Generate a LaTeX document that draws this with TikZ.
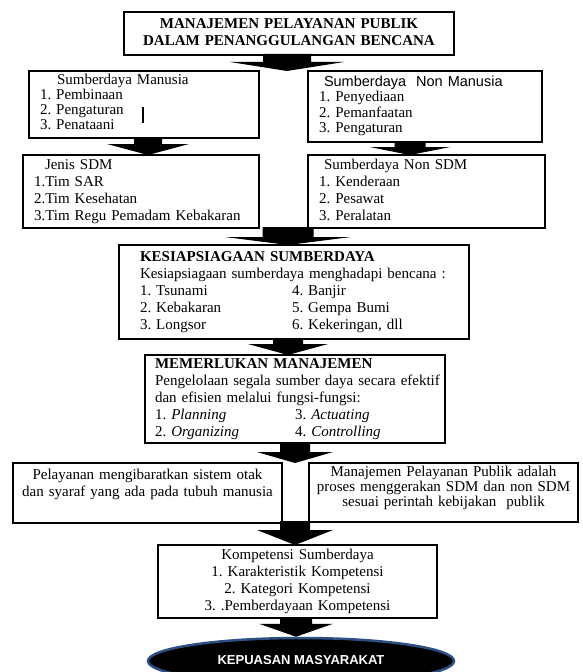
\documentclass[tikz,border=0pt]{standalone}
\usepackage{fontspec}
\setmainfont{Liberation Serif}
\setsansfont{Liberation Sans}
\usetikzlibrary{calc,shapes.geometric}
\frenchspacing
\newcommand\blkarrow[5]{%
  \fill let \p1=(#1), \p2=(#1 |- #2.north) in
    (\x1-#3bp,\y1) -- (\x1+#3bp,\y1) -- (\x1+#3bp,\y2+#5bp) -- (\x1+#4bp,\y2+#5bp)
    -- (\x1,\y2) -- (\x1-#4bp,\y2+#5bp) -- (\x1-#3bp,\y2+#5bp) -- cycle;}
\begin{document}
\begin{tikzpicture}[x=1bp,y=-1bp,
  box/.style={draw, line width=1.2bp, anchor=north west, inner ysep=0pt, outer sep=0pt},
  lbox/.style={box, align=left, font=\fontsize{15bp}{17bp}\selectfont},
  cbox/.style={box, align=center, inner xsep=0pt, font=\fontsize{15bp}{17bp}\selectfont},
]
\useasboundingbox (0,0) rectangle (583,672);

\node[cbox, text width=330bp, minimum height=43bp, font=\fontsize{15bp}{17bp}\selectfont\bfseries] (T) at (124,12)
  {\begin{tabular}{@{}c@{}}MANAJEMEN PELAYANAN PUBLIK\\DALAM PENANGGULANGAN BENCANA\end{tabular}};

\node[lbox, text width=208bp, inner xsep=11bp, minimum height=67bp, font=\fontsize{15bp}{15bp}\selectfont] (L1) at (29,71)
  {\begin{tabular}{@{}l@{}}\hspace*{17bp}Sumberdaya Manusia\\1. Pembinaan\\2. Pengaturan\\3. Penataani\end{tabular}};
\draw[line width=1.5bp] (143,107) -- (143,123);

\node[lbox, text width=212bp, inner xsep=11bp, minimum height=71bp, font=\fontsize{15bp}{15bp}\selectfont] (R1) at (308,71)
  {\begin{tabular}{@{}l@{}}\hspace*{5bp}{\sffamily\fontsize{14.5bp}{15bp}\selectfont Sumberdaya\ \ Non Manusia}\\1. Penyediaan\\2. Pemanfaatan\\3. Pengaturan\end{tabular}};

\node[lbox, text width=214bp, inner xsep=11bp, minimum height=73bp] (L2) at (23,155)
  {\begin{tabular}{@{}l@{}}\hspace*{11bp}Jenis SDM\\1.Tim SAR\\2.Tim Kesehatan\\3.Tim Regu Pemadam Kebakaran\end{tabular}};

\node[lbox, text width=215bp, inner xsep=11bp, minimum height=73bp] (R2) at (308,155)
  {\begin{tabular}{@{}l@{}}\hspace*{5bp}Sumberdaya Non SDM\\1. Kenderaan\\2. Pesawat\\3. Peralatan\end{tabular}};

\node[lbox, text width=308bp, inner xsep=21bp, minimum height=94bp] (K) at (119,245)
  {\begin{tabular}{@{}l@{}}\textbf{KESIAPSIAGAAN SUMBERDAYA}\\Kesiapsiagaan sumberdaya menghadapi bencana :\\
  \makebox[152bp][l]{1. Tsunami}4. Banjir\\\makebox[152bp][l]{2. Kebakaran}5. Gempa Bumi\\\makebox[152bp][l]{3. Longsor}6. Kekeringan, dll\end{tabular}};

\node[lbox, text width=280bp, inner xsep=10bp, minimum height=88bp] (M) at (145,355)
  {\begin{tabular}{@{}l@{}}\textbf{MEMERLUKAN MANAJEMEN}\\Pengelolaan segala sumber daya secara efektif\\dan efisien melalui fungsi-fungsi:\\
  \makebox[140bp][l]{1. \textit{Planning}}3. \textit{Actuating}\\\makebox[140bp][l]{2. \textit{Organizing}}4. \textit{Controlling}\end{tabular}};

\node[cbox, text width=269bp, minimum height=60bp] (P1) at (13,463)
  {\begin{tabular}{@{}c@{}}Pelayanan mengibaratkan sistem otak\\dan syaraf yang ada pada tubuh manusia\\\mbox{}\end{tabular}};

\node[cbox, text width=269bp, minimum height=59bp, font=\fontsize{15bp}{15bp}\selectfont] (P2) at (309,463)
  {\raisebox{0pt}[\height][\dimexpr\depth+8bp\relax]{\begin{tabular}{@{}c@{}}Manajemen Pelayanan Publik adalah\\proses menggerakan SDM dan non SDM\\sesuai perintah kebijakan\ \ publik\end{tabular}}};

\node[cbox, text width=279bp, minimum height=73bp] (Kp) at (158,545)
  {\begin{tabular}{@{}c@{}}Kompetensi Sumberdaya\\1. Karakteristik Kompetensi\\2. Kategori Kompetensi\\3. .Pemberdayaan Kompetensi\end{tabular}};

\node[ellipse, fill=black, draw={rgb,255:red,45;green,80;blue,130}, line width=2.5bp,
  minimum width=306bp, minimum height=46bp, inner sep=0pt, text=white,
  font=\fontsize{13bp}{15bp}\selectfont\sffamily\bfseries] (E) at (301,661) {\raisebox{2bp}{KEPUASAN MASYARAKAT}};

\coordinate (aA) at (287,54);  \blkarrow{aA}{L1}{24}{57}{9}
\coordinate (aB) at (148,137); \blkarrow{aB}{L2}{14}{41}{11}
\coordinate (aC) at (410,141); \blkarrow{aC}{R2}{15.5}{40.5}{8}
\coordinate (aD) at (288,227); \blkarrow{aD}{K}{25.5}{63}{8}
\coordinate (aE) at (288,338); \blkarrow{aE}{M}{15}{40}{11}
\coordinate (aF) at (295,442); \blkarrow{aF}{P1}{15}{38}{11}
\coordinate (aG) at (295,521); \blkarrow{aG}{Kp}{15}{38}{15}
\coordinate (aH) at (296,617); \blkarrow{aH}{E}{16}{37}{13}
\end{tikzpicture}
\end{document}
